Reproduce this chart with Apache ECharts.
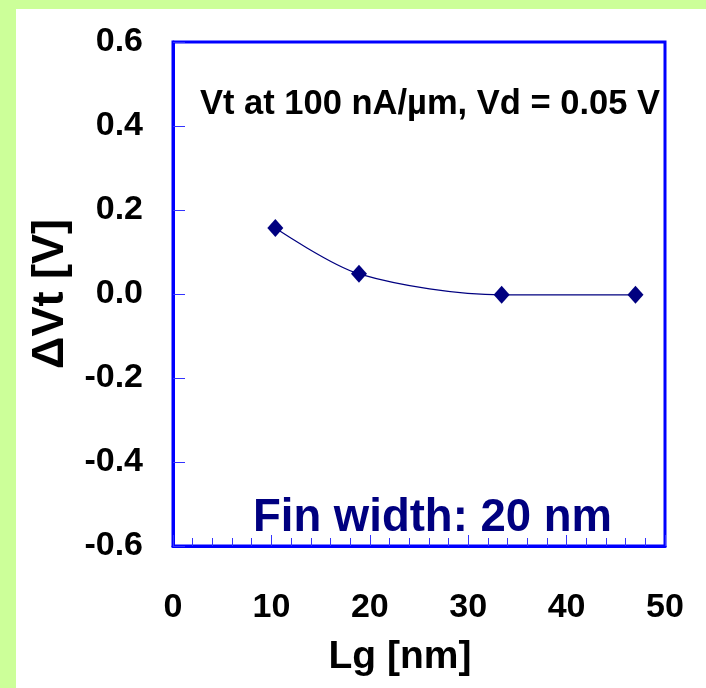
<!DOCTYPE html>
<html>
<head>
<meta charset="utf-8">
<script src="https://cdn.jsdelivr.net/npm/echarts@6/dist/echarts.min.js"></script>
<style>
  body { margin: 0; background: #ccff99; }
  #main { position: absolute; left: 16px; top: 9px; width: 690px; height: 679px; background: #ffffff; }
</style>
</head>
<body>
<div id="main"></div>
<script>
// gate length (nm) and threshold shift (V)
var lgValues = [10.4, 18.9, 33.4, 47.0];
var dvtValues = [0.157, 0.048, -0.002, -0.002];
var titleText = 'Vt at 100 nA/\u00b5m, Vd = 0.05 V';
var noteText = 'Fin width: 20 nm';

var FONT = "'Liberation Sans', Arial, sans-serif";

function initChart() {
    var points = [];
    for (var i = 0; i < lgValues.length; i++) {
        points.push([lgValues[i], dvtValues[i]]);
    }
    var option = {
        animation: false,
        grid: {
            left: 157,
            top: 33,
            width: 492,
            height: 504,
            show: true,
            borderColor: '#0000ff',
            borderWidth: 3,
            backgroundColor: '#ffffff'
        },
        xAxis: {
            type: 'value',
            min: 0,
            max: 50,
            interval: 10,
            name: 'Lg [nm]',
            nameLocation: 'middle',
            nameGap: 92,
            nameTextStyle: {
                fontFamily: FONT, fontWeight: 'bold', fontSize: 39, color: '#000',
                padding: [0, 38, 0, 0]
            },
            axisLine: { onZero: false, lineStyle: { color: '#0000ff', width: 3 } },
            axisTick: { inside: true, length: 11, lineStyle: { color: '#3333ff', width: 1 } },
            minorTick: { show: true, splitNumber: 5, length: 8, lineStyle: { color: '#3333ff', width: 1 } },
            splitLine: { show: false },
            axisLabel: { margin: 45, fontFamily: FONT, fontWeight: 'bold', fontSize: 34, color: '#000' }
        },
        yAxis: {
            type: 'value',
            min: -0.6,
            max: 0.6,
            interval: 0.2,
            name: '\u0394Vt [V]',
            nameLocation: 'middle',
            nameGap: 100,
            nameTextStyle: { fontFamily: FONT, fontWeight: 'bold', fontSize: 45, color: '#000' },
            axisLine: { onZero: false, lineStyle: { color: '#0000ff', width: 3 } },
            axisTick: { inside: true, length: 12, lineStyle: { color: '#3333ff', width: 1 } },
            splitLine: { show: false },
            axisLabel: {
                margin: 30,
                fontFamily: FONT, fontWeight: 'bold', fontSize: 34, color: '#000',
                formatter: function (v) { return v.toFixed(1); }
            }
        },
        graphic: [{
            type: 'text',
            left: 184,
            top: 78,
            style: { text: titleText, font: 'bold 34.5px ' + FONT, fill: '#000' }
        }, {
            type: 'text',
            left: 237,
            top: 486,
            style: { text: noteText, font: 'bold 45.5px ' + FONT, fill: '#000080' }
        }],
        series: [{
            type: 'line',
            data: points,
            smooth: 0.3,
            symbol: 'diamond',
            symbolSize: [16, 18],
            itemStyle: { color: '#000080' },
            lineStyle: { color: '#000080', width: 1.2 }
        }]
    };
    var myChart = echarts.init(document.getElementById('main'));
    myChart.setOption(option);
}

initChart();
</script>
</body>
</html>
